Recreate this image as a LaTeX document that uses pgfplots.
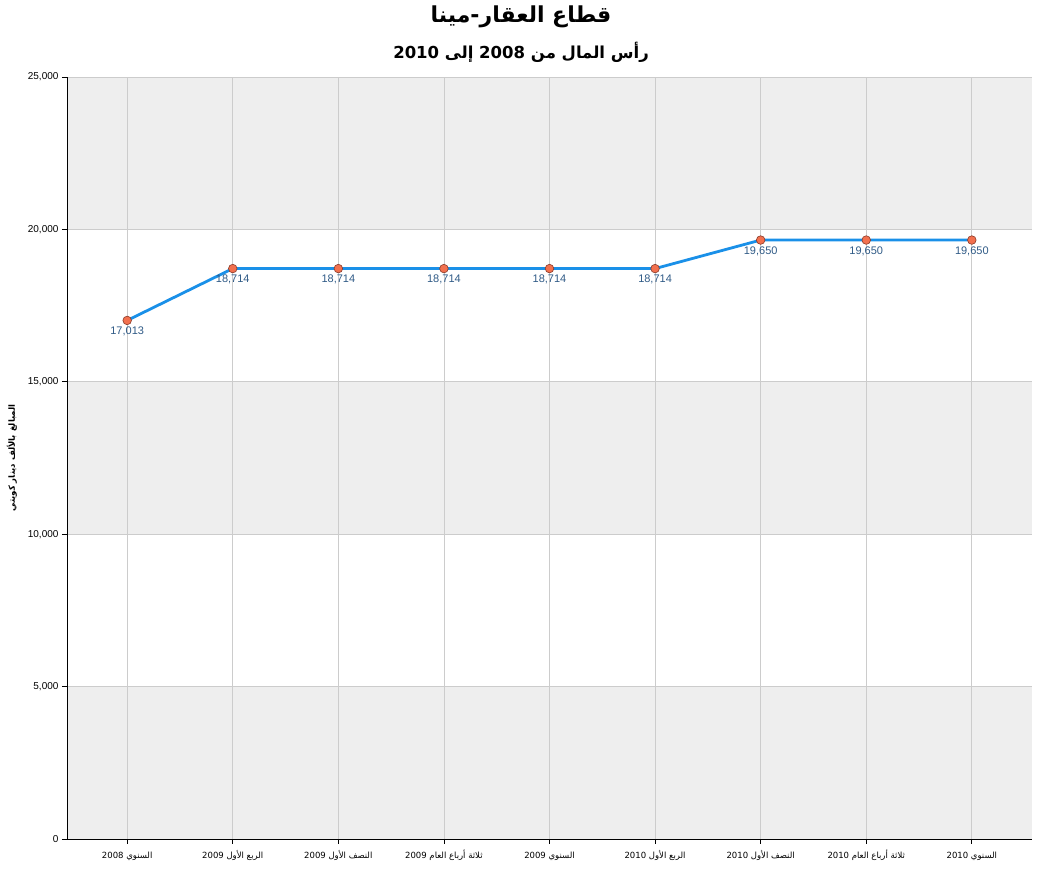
\documentclass[border=0pt]{standalone}
\usepackage{fontspec}
\usepackage{pgfplots}
\pgfplotsset{compat=1.18}
\setmainfont{Liberation Sans}
\newfontfamily\arabicfont[Script=Arabic]{DejaVu Sans}
\TeXXeTstate=1
\definecolor{band}{HTML}{EEEEEE}
\definecolor{gridc}{HTML}{CCCCCC}
\definecolor{linec}{HTML}{1A90E8}
\definecolor{markf}{HTML}{F2704E}
\definecolor{markd}{HTML}{8A3A28}
\definecolor{labc}{HTML}{2F5A86}
\begin{document}
\begin{tikzpicture}
\begin{axis}[
  set layers,
  scale only axis, width=965pt, height=762pt,
  clip=false,
  xmin=-0.57, xmax=8.57, ymin=0, ymax=25000,
  xtick={0,...,8},
  xticklabels={
    {\arabicfont\beginR السنوي \beginL 2008\endL\endR},
    {\arabicfont\beginR الربع الأول \beginL 2009\endL\endR},
    {\arabicfont\beginR النصف الأول \beginL 2009\endL\endR},
    {\arabicfont\beginR ثلاثة أرباع العام \beginL 2009\endL\endR},
    {\arabicfont\beginR السنوي \beginL 2009\endL\endR},
    {\arabicfont\beginR الربع الأول \beginL 2010\endL\endR},
    {\arabicfont\beginR النصف الأول \beginL 2010\endL\endR},
    {\arabicfont\beginR ثلاثة أرباع العام \beginL 2010\endL\endR},
    {\arabicfont\beginR السنوي \beginL 2010\endL\endR}},
  ytick={0,5000,10000,15000,20000,25000},
  scaled y ticks=false,
  grid=major,
  grid style={draw=gridc, line width=0.8pt},
  axis x line*=bottom, axis y line*=left,
  axis line style={black, line width=0.8pt},
  tick align=outside, major tick length=5pt,
  tick style={black, line width=0.8pt},
  xticklabel style={font=\fontsize{8.5}{10}\selectfont, anchor=base, yshift=-15pt},
  yticklabel style={font=\fontsize{10}{11}\selectfont},
  ylabel={\arabicfont\bfseries\beginR المبالغ بالألف دينار كويتي\endR},
  ylabel style={at={(axis description cs:-0.057,0.5)}, anchor=center, font=\fontsize{8.5}{9}\selectfont},
  /pgf/number format/.cd, 1000 sep={,}, assume math mode=true
]
\begin{pgfonlayer}{axis background}
\fill[band] (axis cs:-0.57,0) rectangle (axis cs:8.57,5000);
\fill[band] (axis cs:-0.57,10000) rectangle (axis cs:8.57,15000);
\fill[band] (axis cs:-0.57,20000) rectangle (axis cs:8.57,25000);
\end{pgfonlayer}
\addplot[color=linec, line width=2.8pt, mark=*, mark size=4.3pt,
  mark options={fill=markf, draw=markd, line width=0.6pt},
  nodes near coords, nodes near coords align={below},
  every node near coord/.append style={font=\fontsize{11}{12}\selectfont, color=labc, yshift=-3pt}]
  coordinates {(0,17013) (1,18714) (2,18714) (3,18714) (4,18714) (5,18714) (6,19650) (7,19650) (8,19650)};
\node[font=\arabicfont\bfseries\fontsize{22}{26}\selectfont] at (rel axis cs:0.4705,1.0787) {\beginR قطاع العقار-مينا\endR};
\node[font=\arabicfont\bfseries\fontsize{16.5}{20}\selectfont] at (rel axis cs:0.4705,1.0328) {\beginR رأس المال من \beginL 2008\endL{} إلى \beginL 2010\endL\endR};
\path (rel axis cs:-0.06943,-0.04331) rectangle (rel axis cs:1.0114,1.10105);
\end{axis}
\end{tikzpicture}
\end{document}
